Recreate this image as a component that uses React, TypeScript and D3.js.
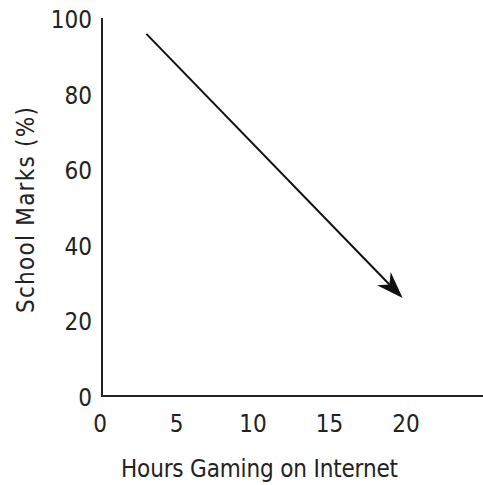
import React from "react";
import * as d3 from "d3";

const xTicks = [0, 5, 10, 15, 20];
const yTicks = [0, 20, 40, 60, 80, 100];
const arrowStart = { hours: 2.9, marks: 95.8 };
const arrowEnd = { hours: 19.65, marks: 25.9 };
const xLabel = "Hours Gaming on Internet";
const yLabel = "School Marks (%)";

export default function App() {
  const W = 483, H = 485;
  const x = d3.scaleLinear().domain([0, 20]).range([102, 408]);
  const y = d3.scaleLinear().domain([0, 100]).range([396, 18]);
  const font = "'DejaVu Sans Condensed', 'DejaVu Sans', Verdana, sans-serif";
  const fs = 24;
  const x1 = x(arrowStart.hours), y1 = y(arrowStart.marks);
  const x2 = x(arrowEnd.hours), y2 = y(arrowEnd.marks);
  const ang = Math.atan2(y2 - y1, x2 - x1);
  const L = 27, Wd = 9.5, notch = 19;
  const pt = (a: number, b: number) => {
    const cx = x2 - a * Math.cos(ang) - b * Math.sin(ang);
    const cy = y2 - a * Math.sin(ang) + b * Math.cos(ang);
    return `${cx},${cy}`;
  };
  const head = [pt(0, 0), pt(L, Wd), pt(notch, 0), pt(L, -Wd)].join(" ");
  const lineEnd = { x: x2 - notch * Math.cos(ang), y: y2 - notch * Math.sin(ang) };
  return (
    <svg width={W} height={H} style={{ position: "absolute", left: 0, top: 0 }}>
      <rect width={W} height={H} fill="#fff" />
      <line x1={x(0)} y1={y(100)} x2={x(0)} y2={y(0)} stroke="#222" strokeWidth={2} />
      <line x1={x(0) - 1} y1={y(0)} x2={483} y2={y(0)} stroke="#222" strokeWidth={2} />
      {xTicks.map((t) => (
        <text key={"x" + t} x={x(t) - 2} y={432} textAnchor="middle" fontFamily={font} fontSize={fs} fill="#222">
          {t}
        </text>
      ))}
      {yTicks.map((t) => (
        <text key={"y" + t} x={92} y={y(t) + 10} textAnchor="end" fontFamily={font} fontSize={fs} fill="#222">
          {t}
        </text>
      ))}
      <text x={259.5} y={477} textAnchor="middle" fontFamily={font} fontSize={fs} fill="#222" textLength={277}>
        {xLabel}
      </text>
      <text transform={`translate(34,210) rotate(-90)`} textAnchor="middle" fontFamily={font} fontSize={fs} fill="#222" textLength={206}>
        {yLabel}
      </text>
      <line x1={x1} y1={y1} x2={lineEnd.x} y2={lineEnd.y} stroke="#111" strokeWidth={2} />
      <polygon points={head} fill="#111" />
    </svg>
  );
}
